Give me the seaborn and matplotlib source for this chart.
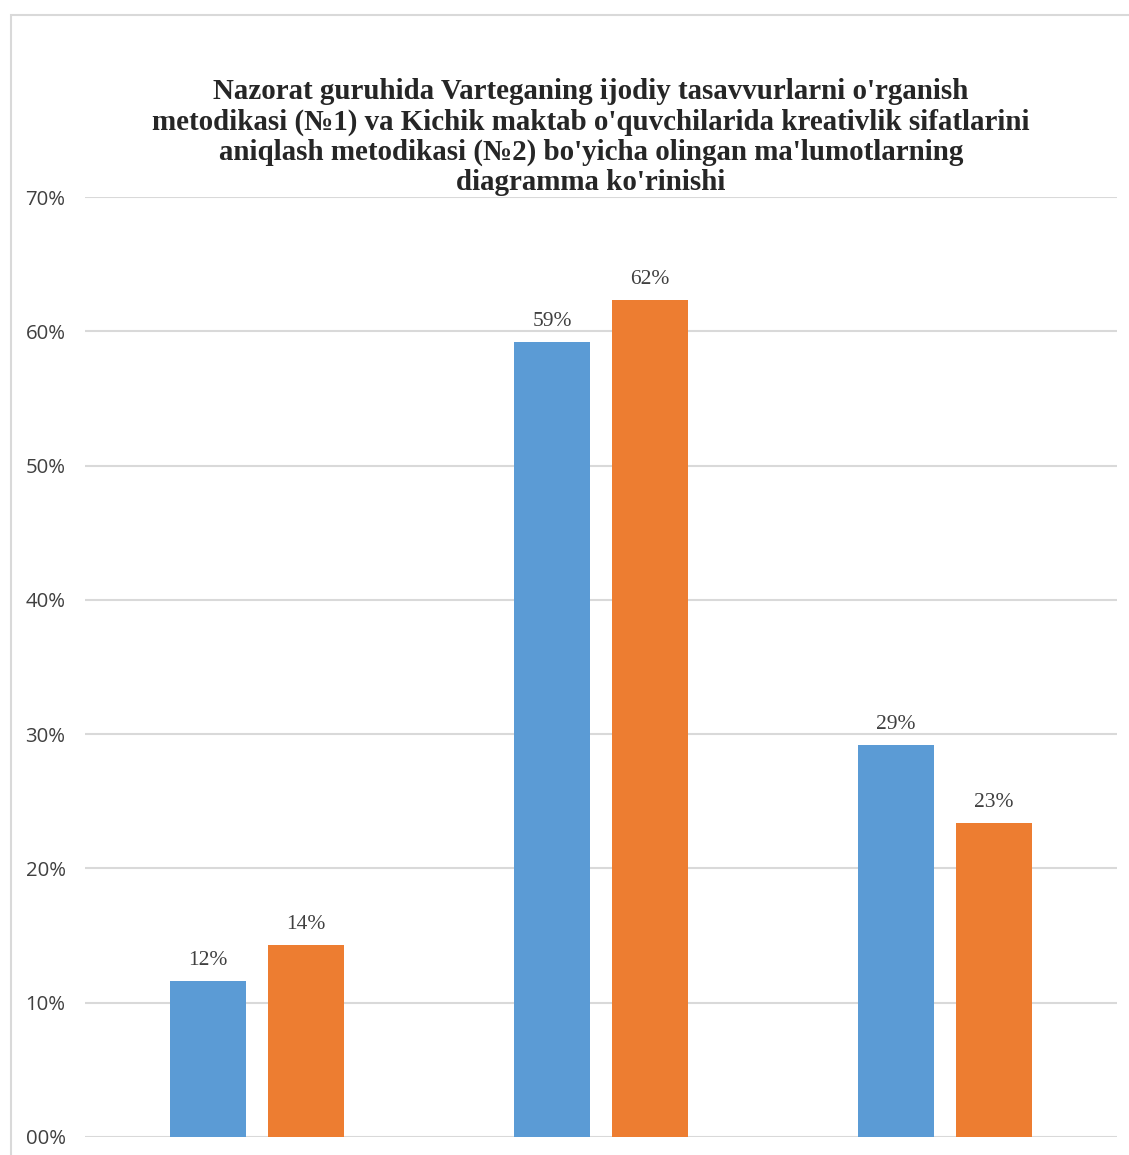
import seaborn as sns
import matplotlib.pyplot as plt
import pandas as pd
from matplotlib.patches import Rectangle

groups = ["1", "2", "3"]
series = ["№1", "№2"]
values_1 = [0.116, 0.592, 0.292]
values_2 = [0.143, 0.623, 0.234]
labels_1 = ["12%", "59%", "29%"]
labels_2 = ["14%", "62%", "23%"]
yticks = [0, 0.1, 0.2, 0.3, 0.4, 0.5, 0.6, 0.7]
ytick_labels = ["00%", "10%", "20%", "30%", "40%", "50%", "60%", "70%"]
title = ("Nazorat guruhida Varteganing ijodiy tasavvurlarni o'rganish\n"
         "metodikasi (№1) va Kichik maktab o'quvchilarida kreativlik sifatlarini\n"
         "aniqlash metodikasi (№2) bo'yicha olingan ma'lumotlarning\n"
         "diagramma ko'rinishi")

df = pd.DataFrame({
    "group": groups * 2,
    "series": [series[0]] * 3 + [series[1]] * 3,
    "value": values_1 + values_2,
})

sns.set_style("white")
fig = plt.figure(figsize=(11.29, 11.55), dpi=100)
ax = fig.add_axes([0.0753, 0.0156, 0.9141, 0.8138])

sns.barplot(data=df, x="group", y="value", hue="series",
            palette=["#5B9BD5", "#ED7D31"], saturation=1,
            width=0.570, gap=0.224, linewidth=0,
            legend=False, ax=ax, zorder=3)

ax.set_xlim(-0.5, 2.5)
ax.set_ylim(0, 0.70)
ax.set_yticks(yticks)
ax.set_yticklabels(ytick_labels, fontsize=14.7, color="#404040",
                   family=["Open Sans", "DejaVu Sans"])
ax.tick_params(axis="y", length=0, pad=14)
ax.set_xticks([])
ax.set_xlabel("")
ax.set_ylabel("")
ax.grid(axis="y", color="#d9d9d9", linewidth=1.5, zorder=0)
for s in ax.spines.values():
    s.set_visible(False)

for cont, labs in zip(ax.containers, [labels_1, labels_2]):
    ax.bar_label(cont, labels=labs, padding=8, fontsize=15.5,
                 family="Liberation Serif", color="#404040")

fig.text(0.5235, 0.881, title, ha="center", va="center", fontsize=20.9,
         fontweight="bold", family="Liberation Serif", color="#262626",
         linespacing=1.15)

fig.patches.append(Rectangle((11 / 1129, -0.1), 1.2, 1 - 15 / 1155 + 0.1,
                             transform=fig.transFigure, fill=False,
                             edgecolor="#d9d9d9", linewidth=1.5))

fig.savefig("out.png", dpi=100)
